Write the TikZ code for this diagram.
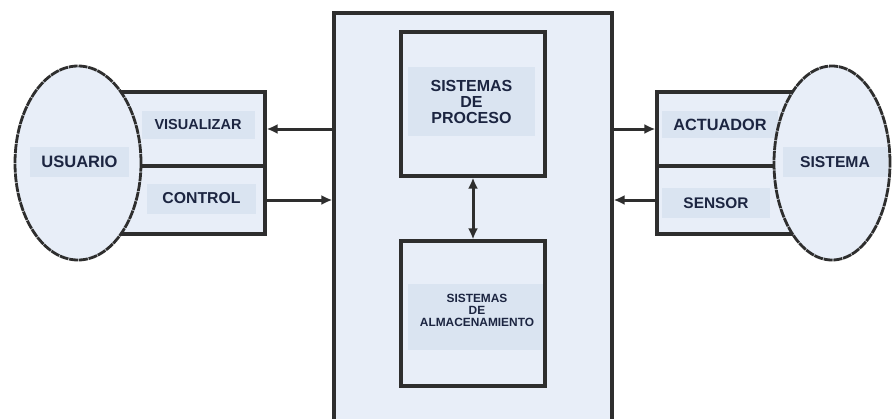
\documentclass[tikz,border=0pt]{standalone}
\usepackage{fontspec}
\setmainfont{Liberation Sans}
\usetikzlibrary{shapes.geometric,arrows.meta}

\definecolor{panel}{HTML}{E8EEF8}
\definecolor{tag}{HTML}{DAE4F1}
\definecolor{ink}{HTML}{1C2541}
\definecolor{edge}{HTML}{2E2E2E}

\tikzset{
  block/.style={draw=edge, line width=3.2pt, fill=panel, rectangle, inner sep=0pt},
  tagbox/.style={fill=tag, rectangle, inner sep=0pt, text=ink, align=center},
  oval/.style={ellipse, draw=edge, line width=2.8pt, fill=panel, inner sep=0pt,
    dash pattern=on 9pt off 0.8pt},
  tip/.style={Latex[length=11pt,width=10pt]},
  arr/.style={draw=edge, line width=3pt, -{Latex[length=11pt,width=10pt]}},
  arrboth/.style={draw=edge, line width=3pt, {Latex[length=11pt,width=10pt]}-{Latex[length=11pt,width=10pt]}},
  fs/.style={font=\bfseries\fontsize{#1}{#1}\selectfont}
}

\begin{document}
\begin{tikzpicture}[x=1pt,y=-1pt]
  \clip (0,0) rectangle (892,418);
  \fill[white] (0,0) rectangle (892,418);

  % central panel, open at the bottom
  \node[block, minimum width=278pt, minimum height=417pt] (core) at (473,221.5) {};

  % processing and storage subsystems
  \node[block, minimum width=144pt, minimum height=144pt] (proc) at (473,104) {};
  \node[block, minimum width=144pt, minimum height=145pt] (alm) at (473,313.5) {};
  \node[tagbox, fs=16, minimum width=127pt, minimum height=69pt] (procT) at (471.5,101.5)
    {\fontsize{16}{18.5}\selectfont SISTEMAS\\DE\\PROCESO};
  \node[tagbox, minimum width=135pt, minimum height=66pt] (almBg) at (475.5,317) {};
  \node[text=ink, align=center, fs=11.9, inner sep=0pt] (almT) at (477,310)
    {\fontsize{11.9}{14}\selectfont SISTEMAS\\DE\\ALMACENAMIENTO};

  % user side interface
  \node[block, minimum width=145pt, minimum height=74pt] (uiVis) at (192.5,129) {};
  \node[block, minimum width=145pt, minimum height=68pt] (uiCtl) at (192.5,200) {};
  \node[tagbox, fs=14.5, minimum width=113pt, minimum height=28pt] (visT) at (198,125) {VISUALIZAR};
  \node[tagbox, fs=15.8, minimum width=109pt, minimum height=30pt] (ctlT) at (201.5,198.5) {CONTROL};

  % plant side interface
  \node[block, minimum width=143pt, minimum height=74pt] (acRect) at (728.5,129) {};
  \node[block, minimum width=143pt, minimum height=68pt] (seRect) at (728.5,200) {};
  \node[tagbox, fs=16.3, minimum width=116pt, minimum height=27pt] (actT) at (720,124.5) {ACTUADOR};
  \node[tagbox, fs=15.4, minimum width=108pt, minimum height=30pt] (senT) at (716,203) {SENSOR};

  % user and controlled system
  \node[oval, minimum width=126pt, minimum height=194pt] (usuario) at (78,163) {};
  \node[tagbox, fs=16.5, minimum width=99pt, minimum height=30pt] (usuT) at (79.5,162) {USUARIO};
  \node[oval, minimum width=116pt, minimum height=194pt] (sistema) at (832,163) {};
  \node[tagbox, fs=15.7, minimum width=105pt, minimum height=30pt] (sisT) at (835,162) {SISTEMA};

  % data flow
  \draw[arr] (core.west |- uiVis.east) -- (uiVis.east);
  \draw[arr] (uiCtl.east) -- (core.west |- uiCtl.east);
  \draw[arr] (core.east |- acRect.west) -- (acRect.west);
  \draw[arr] (seRect.west) -- (core.east |- seRect.west);
  \draw[arrboth] (proc.south) -- (alm.north);
\end{tikzpicture}
\end{document}
